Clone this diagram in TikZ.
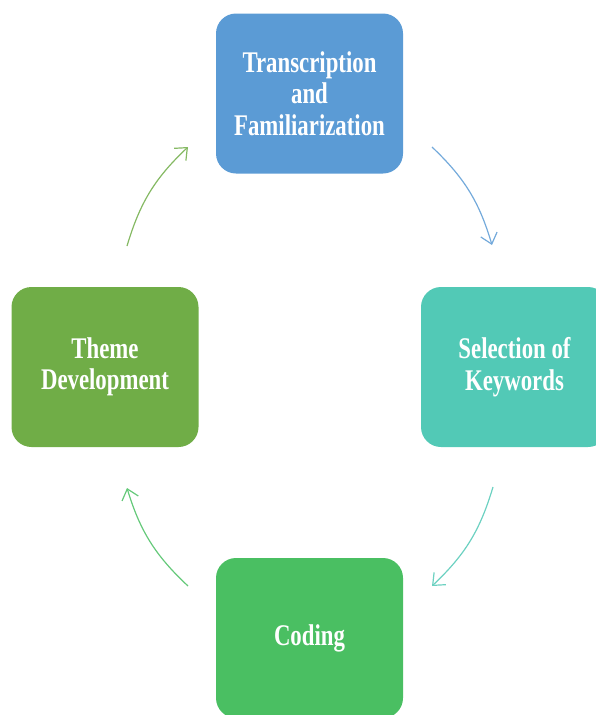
\documentclass[tikz,border=0pt]{standalone}
\usepackage{fontspec}
\newfontfamily\stagefont[FakeStretch=0.76]{Liberation Serif}
\usetikzlibrary{arrows.meta}
\definecolor{stageblue}{HTML}{5B9BD5}
\definecolor{stageteal}{HTML}{52C9B6}
\definecolor{stagegreen}{HTML}{4ABF62}
\definecolor{stageolive}{HTML}{70AD47}
\tikzset{
  stagebox/.style={rounded corners=20pt, minimum width=187pt, minimum height=160pt,
    inner sep=0pt, text=white, align=center,
    font=\stagefont\bfseries\fontsize{30}{31.5}\selectfont},
  cyclearrow/.style={line width=1.2pt, -{Straight Barb[length=10pt,width=17pt,line width=1.2pt]}}
}
\begin{document}
\begin{tikzpicture}[x=1pt,y=-1pt]
\useasboundingbox (0,0) rectangle (596,715);
\clip (0,0) rectangle (596,715);
\node[stagebox, fill=stageblue]  (top)    at (309.5,93.5)  {Transcription\\and\\Familiarization};
\node[stagebox, fill=stageteal]  (right)  at (514.5,367)   {Selection of\\Keywords};
\node[stagebox, fill=stagegreen] (bottom) at (309.5,638)   {Coding};
\node[stagebox, fill=stageolive] (left)   at (105,367)     {Theme\\Development};
\coordinate (a1s) at (432,147);  \coordinate (a1e) at (492,245);
\coordinate (a2s) at (493,487);  \coordinate (a2e) at (432,586);
\coordinate (a3s) at (188,586);  \coordinate (a3e) at (127,488);
\coordinate (a4s) at (127,246);  \coordinate (a4e) at (188,147);
\draw[cyclearrow, stageblue!85]  (a1s) to[bend left=15] (a1e);
\draw[cyclearrow, stageteal!85]  (a2s) to[bend left=15] (a2e);
\draw[cyclearrow, stagegreen!85] (a3s) to[bend left=15] (a3e);
\draw[cyclearrow, stageolive!85] (a4s) to[bend left=15] (a4e);
\end{tikzpicture}
\end{document}
